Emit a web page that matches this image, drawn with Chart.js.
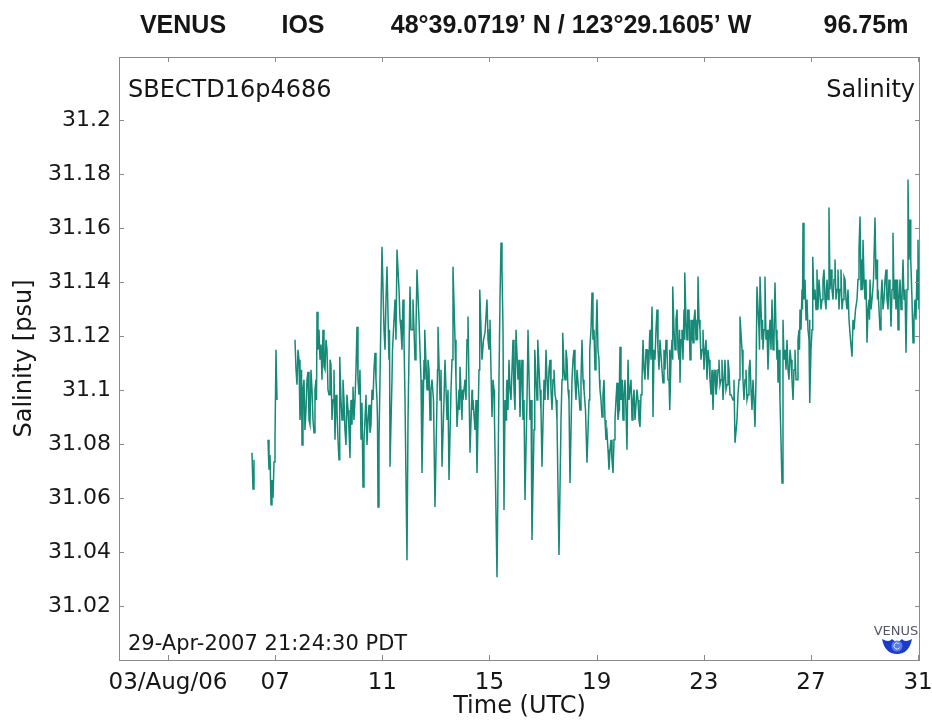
<!DOCTYPE html>
<html>
<head>
<meta charset="utf-8">
<title>VENUS IOS - Salinity</title>
<script src="https://cdn.jsdelivr.net/npm/chart.js@4.4.1/dist/chart.umd.min.js"></script>
<style>
  html, body { margin: 0; padding: 0; background: #ffffff; }
  #wrap { width: 932px; height: 723px; }
</style>
</head>
<body>
<div id="wrap"><canvas id="salinity-chart" width="932" height="723"></canvas></div>
<script>
// Tiempo en dias de agosto 2006 (UTC); null en salinidad = hueco en el registro
const timeDay = [
  6.135, 6.173, 6.210, 6.450,
  6.733, 6.770, 6.808, 6.845, 6.882, 6.920, 6.957, 6.994, 7.031, 7.069, 7.400,
  // 07 -> 15
  7.741, 7.815, 7.890, 7.965, 8.002, 8.076, 8.151, 8.226, 8.300, 8.375,
  8.450, 8.524, 8.562, 8.636, 8.711, 8.786, 8.860, 8.935, 9.010, 9.084,
  9.159, 9.234, 9.308, 9.383, 9.420, 9.495, 9.569, 9.644, 9.719, 9.793,
  9.868, 9.905, 9.980, 10.055, 10.129, 10.204, 10.279, 10.353, 10.428, 10.503,
  10.577, 10.652, 10.727, 10.801, 10.839, 10.913, 10.988, 11.063, 11.137, 11.175,
  11.249, 11.287, 11.361, 11.399, 11.473, 11.548, 11.623, 11.697, 11.772, 11.847,
  11.921, 11.959, 12.033, 12.108, 12.145, 12.220, 12.294, 12.369, 12.444, 12.481,
  12.556, 12.593, 12.668, 12.742, 12.780, 12.854, 12.966, 13.041, 13.078, 13.153,
  13.228, 13.302, 13.340, 13.414, 13.489, 13.564, 13.638, 13.713, 13.788, 13.862,
  13.900, 13.974, 14.012, 14.086, 14.161, 14.198, 14.273, 14.348, 14.385, 14.460,
  14.534, 14.609, 14.646, 14.721, 14.833,
  // 15 -> 24
  14.907, 14.982, 15.019, 15.094, 15.169, 15.206, 15.281, 15.355, 15.430, 15.467,
  15.505, 15.542, 15.617, 15.654, 15.729, 15.803, 15.878, 15.953, 15.990, 16.065,
  16.139, 16.214, 16.251, 16.326, 16.400, 16.438, 16.512, 16.587, 16.662, 16.699,
  16.774, 16.811, 16.886, 16.960, 17.035, 17.110, 17.184, 17.259, 17.334, 17.408,
  17.483, 17.520, 17.595, 17.670, 17.707, 17.744, 17.819, 17.894, 17.968, 18.005,
  18.080, 18.155, 18.229, 18.304, 18.379, 18.453, 18.528, 18.640, 18.715, 18.752,
  18.827, 18.901, 18.939, 19.013, 19.088, 19.125, 19.200, 19.275, 19.349, 19.387,
  19.461, 19.536, 19.611, 19.685, 19.760, 19.835, 19.872, 19.947, 19.984, 20.059,
  20.133, 20.171, 20.245, 20.320, 20.395, 20.469, 20.544, 20.618, 20.693, 20.731,
  20.805, 20.880, 20.954, 20.992, 21.066, 21.104, 21.178, 21.253, 21.328, 21.402,
  21.477, 21.552, 21.626, 21.701, 21.738, 21.813, 21.850, 21.925, 22.000, 22.074,
  22.112, 22.186, 22.261, 22.298, 22.373, 22.410, 22.485, 22.560, 22.597, 22.672,
  22.746, 22.784, 22.858, 22.933, 23.007, 23.082, 23.119, 23.194, 23.269, 23.343,
  23.418, 23.493, 23.567, 23.642, 23.716, 23.791, 23.866, 23.940, 24.015,
  // 24 -> 31
  24.090, 24.164, 24.239, 24.314, 24.351, 24.426, 24.500, 24.575, 24.650, 24.724,
  24.799, 24.836, 24.911, 24.985, 25.060, 25.098, 25.172, 25.210, 25.284, 25.359,
  25.396, 25.471, 25.546, 25.620, 25.658, 25.732, 25.770, 25.844, 25.919, 25.956,
  26.031, 26.106, 26.180, 26.255, 26.330, 26.404, 26.479, 26.554, 26.591, 26.666,
  26.703, 26.778, 26.852, 26.927, 26.964, 27.039, 27.076, 27.151, 27.225, 27.263,
  27.337, 27.412, 27.487, 27.561, 27.599, 27.673, 27.748, 27.823, 27.897, 27.972,
  28.047, 28.121, 28.196, 28.271, 28.345, 28.420, 28.532, 28.607, 28.719, 28.793,
  28.831, 28.905, 28.943, 29.017, 29.092, 29.167, 29.204, 29.279, 29.391, 29.465,
  29.503, 29.577, 29.652, 29.727, 29.801, 29.876, 29.950, 29.988, 30.062, 30.137,
  30.212, 30.249, 30.324, 30.398, 30.436, 30.510, 30.548, 30.622, 30.697, 30.734,
  30.809, 30.883, 30.958, 30.995, 31.070
];

const salinity = [
  31.0768, 31.0634, 31.0742, null,
  31.0816, 31.0705, 31.0760, 31.0575, 31.0667, 31.0601, 31.0734, 31.0816, 31.1150, 31.0964, null,
  // 07 -> 15
  31.1187, 31.1020, 31.1113, 31.0964, 31.0797, 31.1039, 31.0927, 31.1068, 31.0872, 31.1002,
  31.0842, 31.1039, 31.1291, 31.1224, 31.1169, 31.1224, 31.1076, 31.1150, 31.0983, 31.1094,
  31.0964, 31.0816, 31.0927, 31.0742, 31.1124, 31.0890, 31.0964, 31.0797, 31.0927, 31.0749,
  31.0872, 31.1013, 31.0964, 31.1235, 31.0983, 31.0816, 31.0641, 31.0890, 31.0797, 31.0946,
  31.0872, 31.0964, 31.1139, 31.0964, 31.0567, 31.1039, 31.1532, 31.1224, 31.1336, 31.1458,
  31.1113, 31.0716, 31.1039, 31.1187, 31.1336, 31.1521, 31.1373, 31.1224, 31.1336, 31.0964,
  31.0370, 31.0890, 31.1384, 31.1224, 31.1336, 31.1113, 31.1447, 31.1261, 31.1039, 31.0693,
  31.1113, 31.1224, 31.1002, 31.1076, 31.0890, 31.1039, 31.0567, 31.0964, 31.1235, 31.0964,
  31.0716, 31.0964, 31.1113, 31.0890, 31.0667, 31.1002, 31.1458, 31.1187, 31.0864, 31.1002,
  31.1087, 31.0890, 31.0964, 31.1039, 31.1187, 31.1273, 31.0768, 31.1002, 31.0964, 31.0853,
  31.0693, 31.1076, 31.1373, 31.1113, 31.1213,
  // 15 -> 24
  31.1336, 31.1150, 31.1261, 31.0901, 31.1002, 31.0779, 31.0307, 31.1039, 31.1547, 31.1447,
  31.1224, 31.0556, 31.0890, 31.1039, 31.1113, 31.0964, 31.1187, 31.0927, 31.1224, 31.1039,
  31.0901, 31.1113, 31.0890, 31.0593, 31.0964, 31.1224, 31.0890, 31.0445, 31.0853, 31.1150,
  31.0964, 31.1187, 31.1002, 31.0716, 31.1039, 31.1150, 31.0964, 31.1113, 31.0927, 31.1076,
  31.0964, 31.0890, 31.0389, 31.0890, 31.1039, 31.1213, 31.1039, 31.1113, 31.0964, 31.0656,
  31.1039, 31.1150, 31.0964, 31.1076, 31.0927, 31.1187, 31.1002, 31.0731, 31.0964, 31.1150,
  31.1362, 31.1224, 31.1076, 31.1336, 31.1113, 31.1002, 31.0901, 31.1039, 31.0816, 31.0842,
  31.0705, 31.0816, 31.0693, 31.0890, 31.1028, 31.0927, 31.1161, 31.1039, 31.0890, 31.1039,
  31.0779, 31.1113, 31.0964, 31.0890, 31.1002, 31.0890, 31.0964, 31.0864, 31.1039, 31.1187,
  31.1039, 31.1150, 31.1113, 31.1224, 31.1310, 31.0901, 31.1113, 31.1299, 31.1076, 31.1187,
  31.1028, 31.1076, 31.1150, 31.1039, 31.0927, 31.1187, 31.1384, 31.1150, 31.1299, 31.1113,
  31.1028, 31.1224, 31.1299, 31.1436, 31.1187, 31.1224, 31.1113, 31.1187, 31.1176, 31.1299,
  31.1261, 31.1421, 31.1224, 31.1150, 31.1076, 31.1187, 31.1039, 31.1113, 31.0983, 31.0927,
  31.1076, 31.1020, 31.1113, 31.1039, 31.0964, 31.1113, 31.1020, 31.1076, 31.0983,
  // 24 -> 31
  31.0964, 31.0805, 31.0890, 31.1039, 31.1273, 31.1150, 31.0964, 31.1076, 31.0983, 31.1113,
  31.0927, 31.1039, 31.0864, 31.1384, 31.1224, 31.1421, 31.1187, 31.1150, 31.1421, 31.1224,
  31.1076, 31.1261, 31.1336, 31.1187, 31.1399, 31.1113, 31.1028, 31.0964, 31.0656, 31.1261,
  31.1150, 31.1187, 31.1039, 31.1113, 31.0964, 31.1150, 31.1039, 31.1224, 31.1299, 31.1373,
  31.1621, 31.1410, 31.1336, 31.1187, 31.0953, 31.1224, 31.1495, 31.1373, 31.1447, 31.1299,
  31.1410, 31.1336, 31.1447, 31.1299, 31.1410, 31.1677, 31.1447, 31.1336, 31.1484, 31.1373,
  31.1299, 31.1447, 31.1336, 31.1410, 31.1299, 31.1261, 31.1124, 31.1224, 31.1336, 31.1521,
  31.1644, 31.1484, 31.1558, 31.1336, 31.1176, 31.1336, 31.1410, 31.1336, 31.1640, 31.1484,
  31.1373, 31.1224, 31.1410, 31.1336, 31.1447, 31.1299, 31.1373, 31.1235, 31.1584, 31.1410,
  31.1336, 31.1224, 31.1410, 31.1336, 31.1484, 31.1373, 31.1139, 31.1781, 31.1633, 31.1484,
  31.1176, 31.1336, 31.1447, 31.1558, 31.1336
];

// Lecturas extra en los tramos donde la traza forma una banda densa
const denseDay = [
  // 07.7 -> 10.9
  7.778, 7.852, 7.927, 7.984, 8.039, 8.113, 8.188, 8.263, 8.337, 8.412,
  8.487, 8.543, 8.599, 8.673, 8.748, 8.823, 8.897, 8.972, 9.047, 9.121,
  9.196, 9.271, 9.345, 9.401, 9.457, 9.532, 9.606, 9.681, 9.756, 9.830,
  9.886, 9.942, 10.017, 10.092, 10.166, 10.241, 10.316, 10.390, 10.465, 10.540,
  10.614, 10.689, 10.764, 10.820, 10.876,
  // 11 -> 14.8
  11.100, 11.268, 11.380, 11.510, 11.660, 11.734, 11.809, 12.070, 12.257, 12.406,
  12.574, 12.705, 12.817, 12.910, 13.060, 13.190, 13.321, 13.451, 13.601, 13.750,
  13.881, 13.993, 14.123, 14.366, 14.497, 14.627, 14.777,
  // 14.9 -> 20.8
  14.945, 15.000, 15.056, 15.131, 15.187, 15.393, 15.580, 15.636, 15.691, 15.766,
  15.841, 15.915, 16.102, 16.177, 16.288, 16.419, 16.550, 16.680, 16.792, 16.923,
  17.072, 17.147, 17.221, 17.296, 17.371, 17.446, 17.726, 17.782, 17.856, 17.931,
  18.117, 18.192, 18.267, 18.341, 18.416, 18.491, 18.584, 18.733, 18.789, 18.864,
  18.920, 18.976, 19.050, 19.106, 19.162, 19.237, 19.312, 19.424, 19.498, 19.573,
  19.648, 19.722, 19.797, 19.853, 19.909, 19.965, 20.021, 20.096, 20.208, 20.283,
  20.357, 20.432, 20.506, 20.581, 20.656, 20.712, 20.768,
  // 20.8 -> 24
  20.842, 20.917, 20.973, 21.029, 21.085, 21.141, 21.215, 21.290, 21.365, 21.439,
  21.514, 21.589, 21.663, 21.720, 21.775, 21.831, 21.887, 21.962, 22.037, 22.093,
  22.149, 22.223, 22.280, 22.335, 22.391, 22.447, 22.522, 22.578, 22.634, 22.709,
  22.765, 22.821, 22.895, 22.970, 23.044, 23.100, 23.156, 23.231, 23.306, 23.380,
  23.455, 23.530, 23.604, 23.679, 23.753, 23.828, 23.903, 23.977,
  // 24 -> 26.5
  24.127, 24.276, 24.463, 24.538, 24.612, 24.687, 24.762, 24.873, 24.948, 25.079,
  25.191, 25.247, 25.321, 25.434, 25.508, 25.583, 25.695, 25.751, 25.807, 25.994,
  26.068, 26.143, 26.218, 26.292, 26.367, 26.442,
  // 26.5 -> 31
  26.516, 26.572, 26.628, 26.684, 26.740, 26.815, 26.890, 26.945, 27.001, 27.057,
  27.113, 27.188, 27.244, 27.300, 27.374, 27.449, 27.524, 27.580, 27.636, 27.710,
  27.785, 27.860, 27.934, 28.009, 28.084, 28.158, 28.233, 28.308, 28.383, 28.476,
  28.570, 28.663, 28.756, 28.868, 28.924, 28.980, 29.055, 29.129, 29.185, 29.241,
  29.335, 29.428, 29.484, 29.540, 29.614, 29.689, 29.764, 29.838, 29.913, 29.969,
  30.025, 30.100, 30.174, 30.230, 30.286, 30.361, 30.417, 30.473, 30.529, 30.585,
  30.660, 30.716, 30.771, 30.846, 30.920, 30.976, 31.032
];

const denseSal = [
  // 07.7 -> 10.9
  31.1076, 31.1150, 31.0890, 31.1076, 31.1002, 31.0853, 31.1039, 31.0890, 31.1076, 31.0890,
  31.1002, 31.0964, 31.1150, 31.1113, 31.1039, 31.1087, 31.1187, 31.1002, 31.1113, 31.0890,
  31.1076, 31.0983, 31.0816, 31.0890, 31.0964, 31.1039, 31.0853, 31.0983, 31.0853, 31.0964,
  31.0964, 31.0890, 31.1076, 31.1039, 31.1076, 31.0953, 31.0816, 31.0983, 31.0890, 31.0842,
  31.1002, 31.1076, 31.1039, 31.0890, 31.0816,
  // 11 -> 14.8
  31.1150, 31.1224, 31.1150, 31.1187, 31.1261, 31.1150, 31.1187, 31.1224, 31.1224, 31.1150,
  31.1039, 31.1113, 31.1002, 31.0964, 31.1076, 31.1076, 31.1039, 31.1002, 31.1113, 31.1039,
  31.0927, 31.1002, 31.0964, 31.0927, 31.0964, 31.1187, 31.1187,
  // 14.9 -> 20.8
  31.1187, 31.1224, 31.1076, 31.1039, 31.0890, 31.1336, 31.0964, 31.1002, 31.0927, 31.1002,
  31.1076, 31.1002, 31.1113, 31.1039, 31.0964, 31.1076, 31.0964, 31.0964, 31.1076, 31.0927,
  31.0964, 31.1039, 31.1076, 31.1002, 31.1039, 31.0983, 31.1113, 31.1076, 31.1150, 31.1002,
  31.1113, 31.1039, 31.1076, 31.0983, 31.1039, 31.1039, 31.0927, 31.1039, 31.1224, 31.1187,
  31.1150, 31.1187, 31.1150, 31.1039, 31.0964, 31.0983, 31.0890, 31.0779, 31.0779, 31.0742,
  31.0816, 31.0964, 31.0890, 31.1039, 31.0964, 31.0964, 31.0983, 31.0927, 31.0964, 31.1039,
  31.0964, 31.0890, 31.1002, 31.0890, 31.0983, 31.1113, 31.1076,
  // 20.8 -> 24
  31.1150, 31.1039, 31.1187, 31.1113, 31.1187, 31.1150, 31.1224, 31.1150, 31.1187, 31.1076,
  31.1150, 31.1187, 31.1039, 31.1150, 31.1113, 31.1113, 31.1224, 31.1261, 31.1150, 31.1224,
  31.1187, 31.1113, 31.1187, 31.1261, 31.1299, 31.1299, 31.1261, 31.1261, 31.1261, 31.1187,
  31.1187, 31.1261, 31.1113, 31.1224, 31.1150, 31.1113, 31.1150, 31.1039, 31.1076, 31.1039,
  31.0983, 31.1076, 31.1020, 31.1113, 31.1039, 31.1002, 31.1113, 31.0983,
  // 24 -> 26.5
  31.1039, 31.0983, 31.1039, 31.1039, 31.0964, 31.1076, 31.1002, 31.0964, 31.1039, 31.1150,
  31.1261, 31.1224, 31.1187, 31.1187, 31.1150, 31.1150, 31.1224, 31.1187, 31.1150, 31.1113,
  31.1076, 31.1076, 31.1150, 31.1039, 31.1076, 31.1039,
  // 26.5 -> 31
  31.1187, 31.1150, 31.1224, 31.1299, 31.1336, 31.1261, 31.1224, 31.1261, 31.1150, 31.1336,
  31.1336, 31.1299, 31.1336, 31.1410, 31.1299, 31.1410, 31.1336, 31.1373, 31.1336, 31.1373,
  31.1373, 31.1410, 31.1336, 31.1447, 31.1373, 31.1299, 31.1421, 31.1336, 31.1373, 31.1187,
  31.1261, 31.1299, 31.1410, 31.1373, 31.1373, 31.1410, 31.1410, 31.1299, 31.1261, 31.1299,
  31.1410, 31.1410, 31.1336, 31.1299, 31.1336, 31.1299, 31.1410, 31.1336, 31.1410, 31.1299,
  31.1373, 31.1336, 31.1299, 31.1410, 31.1336, 31.1299, 31.1410, 31.1336, 31.1261, 31.1373,
  31.1484, 31.1558, 31.1336, 31.1261, 31.1261, 31.1336, 31.1299
];

// Ejes
const xTickDays = [3, 7, 11, 15, 19, 23, 27, 31];
const xTickLabels = ['03/Aug/06', '07', '11', '15', '19', '23', '27', '31'];
const yTickValues = [31.02, 31.04, 31.06, 31.08, 31.1, 31.12, 31.14, 31.16, 31.18, 31.2];
const yTickLabels = ['31.02', '31.04', '31.06', '31.08', '31.1', '31.12', '31.14', '31.16', '31.18', '31.2'];

// Textos
const headerParts = ['VENUS', 'IOS', '48\u00B039.0719\u2019 N / 123\u00B029.1605\u2019 W', '96.75m'];
const headerCenters = [183, 303, 571, 866];
const instrumentId = 'SBECTD16p4686';
const variableName = 'Salinity';
const stampText = '29-Apr-2007 21:24:30 PDT';

const FONT = '"DejaVu Sans", "Liberation Sans", sans-serif';
const HEADER_FONT = '"Liberation Sans", Arial, sans-serif';
const LINE_COLOR = '#168a77';
const FRAME_COLOR = '#8a8a8a';
const TEXT_COLOR = '#161616';

/**
 * Marco tipo MATLAB: caja, ticks hacia dentro y textos sobre el grafico
 */
const framePlugin = {
  id: 'matlabFrame',
  afterDraw(chart) {
    const ctx = chart.ctx;
    const area = chart.chartArea;
    const xs = chart.scales.x;
    const ys = chart.scales.y;
    const tick = 5;

    ctx.save();
    ctx.strokeStyle = FRAME_COLOR;
    ctx.lineWidth = 1;
    ctx.strokeRect(Math.round(area.left) + 0.5, Math.round(area.top) + 0.5,
      Math.round(area.right - area.left) - 1, Math.round(area.bottom - area.top));

    ctx.beginPath();
    xTickDays.forEach(d => {
      const px = Math.round(xs.getPixelForValue(d)) + 0.5;
      ctx.moveTo(px, area.bottom);
      ctx.lineTo(px, area.bottom - tick);
      ctx.moveTo(px, area.top);
      ctx.lineTo(px, area.top + tick);
    });
    yTickValues.forEach(v => {
      const py = Math.round(ys.getPixelForValue(v)) + 0.5;
      ctx.moveTo(area.left, py);
      ctx.lineTo(area.left + tick, py);
      ctx.moveTo(area.right, py);
      ctx.lineTo(area.right - tick, py);
    });
    ctx.stroke();

    // Cabecera
    ctx.fillStyle = TEXT_COLOR;
    ctx.textBaseline = 'alphabetic';
    ctx.textAlign = 'center';
    ctx.font = 'bold 25px ' + HEADER_FONT;
    headerParts.forEach((t, i) => ctx.fillText(t, headerCenters[i], 33));

    // Etiquetas dentro del area
    ctx.font = '24px ' + FONT;
    ctx.textAlign = 'left';
    ctx.fillText(instrumentId, area.left + 9, 97);
    ctx.textAlign = 'right';
    ctx.fillText(variableName, area.right - 5, 97);
    ctx.font = '21px ' + FONT;
    ctx.textAlign = 'left';
    ctx.fillText(stampText, area.left + 9, 650);

    drawLogo(ctx, 897, 645);
    ctx.restore();
  }
};

/**
 * Logo VENUS (esquina inferior derecha)
 */
function drawLogo(ctx, cx, cy) {
  ctx.save();
  ctx.fillStyle = '#55556a';
  ctx.font = '13px ' + FONT;
  ctx.textAlign = 'center';
  ctx.fillText('VENUS', cx - 1, cy - 10);

  ctx.fillStyle = '#1a3cc8';
  ctx.beginPath();
  ctx.moveTo(cx - 15, cy - 6);
  ctx.quadraticCurveTo(cx - 12, cy + 9, cx, cy + 9);
  ctx.quadraticCurveTo(cx + 12, cy + 9, cx + 15, cy - 6);
  ctx.quadraticCurveTo(cx + 8, cy - 2, cx + 5, cy - 6);
  ctx.lineTo(cx, cy - 2);
  ctx.lineTo(cx - 5, cy - 6);
  ctx.quadraticCurveTo(cx - 8, cy - 2, cx - 15, cy - 6);
  ctx.fill();

  ctx.fillStyle = '#5a7cf0';
  ctx.beginPath();
  ctx.arc(cx, cy + 1, 5.5, 0, Math.PI * 2);
  ctx.fill();
  ctx.strokeStyle = '#dfe6ff';
  ctx.lineWidth = 1;
  ctx.beginPath();
  ctx.arc(cx, cy + 1, 3, 0.6, Math.PI * 2 - 0.6);
  ctx.stroke();
  ctx.restore();
}

// Unir lecturas principales y extra, ordenadas en el tiempo
const points = timeDay.map((t, i) => ({ x: t, y: salinity[i] }))
  .concat(denseDay.map((t, i) => ({ x: t, y: denseSal[i] })))
  .sort((a, b) => a.x - b.x);

const chart = new Chart(document.getElementById('salinity-chart'), {
  type: 'line',
  data: {
    datasets: [{
      label: 'Salinity',
      data: points,
      borderColor: LINE_COLOR,
      borderWidth: 1.5,
      pointRadius: 0,
      tension: 0,
      spanGaps: false,
      fill: false
    }]
  },
  options: {
    responsive: false,
    animation: false,
    devicePixelRatio: 1,
    layout: {
      padding: { left: 0, top: 57, right: 12, bottom: 0 }
    },
    plugins: {
      legend: { display: false },
      tooltip: { enabled: false },
      title: { display: false }
    },
    scales: {
      x: {
        type: 'linear',
        min: 1.171,
        max: 31.07,
        afterBuildTicks: scale => {
          scale.ticks = xTickDays.map(v => ({ value: v }));
        },
        afterFit: scale => {
          scale.height = 63;
          scale.paddingLeft = 0;
          scale.paddingRight = 0;
        },
        ticks: {
          autoSkip: false,
          maxRotation: 0,
          minRotation: 0,
          padding: 9,
          color: TEXT_COLOR,
          font: { family: FONT, size: 23 },
          callback: (value, index) => xTickLabels[index]
        },
        grid: { display: false, drawTicks: false },
        border: { display: false },
        title: {
          display: true,
          text: 'Time (UTC)',
          color: TEXT_COLOR,
          font: { family: FONT, size: 24 },
          padding: { top: 0, bottom: 2 }
        }
      },
      y: {
        type: 'linear',
        min: 31.0,
        max: 31.2235,
        afterBuildTicks: scale => {
          scale.ticks = yTickValues.map(v => ({ value: v }));
        },
        afterFit: scale => {
          scale.width = 119;
          scale.paddingTop = 0;
          scale.paddingBottom = 0;
        },
        ticks: {
          autoSkip: false,
          padding: 8,
          color: TEXT_COLOR,
          font: { family: FONT, size: 22 },
          callback: (value, index) => yTickLabels[index]
        },
        grid: { display: false, drawTicks: false },
        border: { display: false },
        title: {
          display: true,
          text: 'Salinity [psu]',
          color: TEXT_COLOR,
          font: { family: FONT, size: 24 },
          padding: { top: 10, bottom: 4 }
        }
      }
    }
  },
  plugins: [framePlugin]
});
</script>
</body>
</html>
